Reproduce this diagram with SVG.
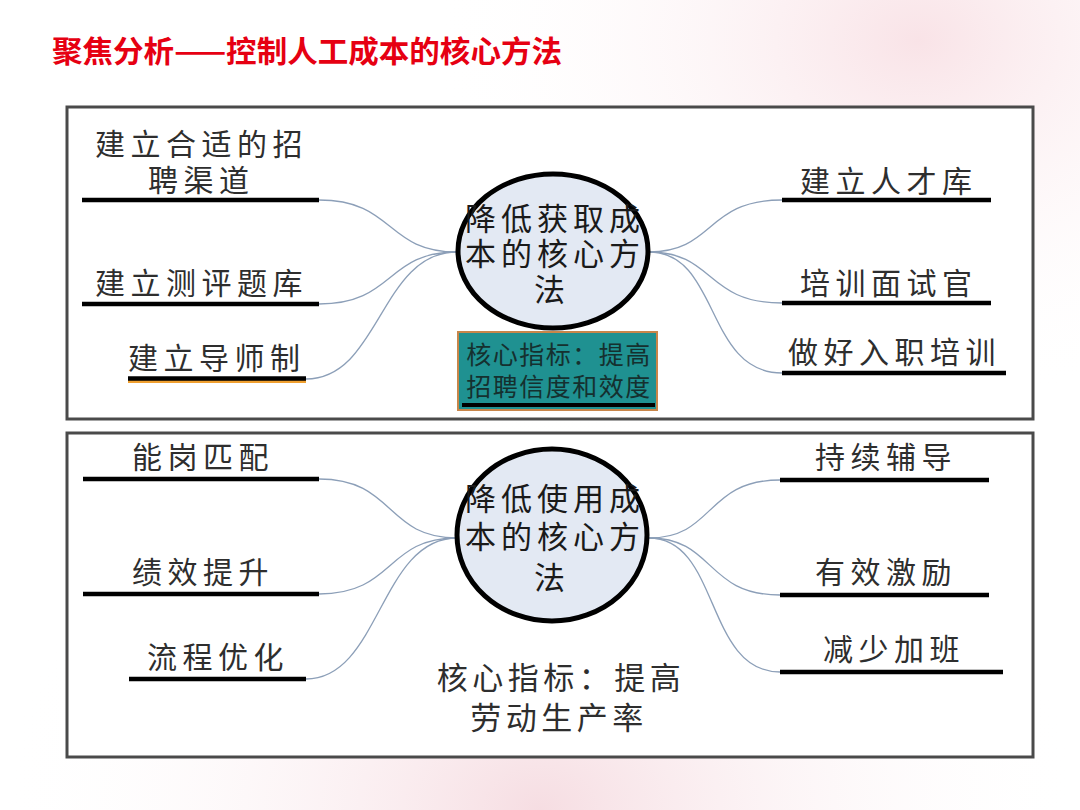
<svg xmlns="http://www.w3.org/2000/svg" width="1080" height="810" viewBox="0 0 1080 810">
<defs>
<radialGradient id="bg1" cx="0.85" cy="0.05" r="0.45">
<stop offset="0" stop-color="#f9e3e7"/>
<stop offset="1" stop-color="#ffffff" stop-opacity="0"/>
</radialGradient>
<radialGradient id="bg2" cx="0.5" cy="1" r="0.5">
<stop offset="0" stop-color="#f6dde2"/>
<stop offset="1" stop-color="#ffffff" stop-opacity="0"/>
</radialGradient>
<style>
.panel{fill:#ffffff;stroke:#4a4a4a;stroke-width:3}
.ul{stroke:#000;stroke-width:4.5}
.lbl{font-family:"Noto Sans CJK SC","Noto Sans",sans-serif;font-size:30px;fill:#2e2e2e;letter-spacing:5.5px;dominant-baseline:central}
.hub{fill:#e3e9f3;stroke:#000;stroke-width:5}
.hubt{font-family:"Noto Sans CJK SC","Noto Sans",sans-serif;font-size:31px;fill:#1a1a1a;letter-spacing:5px;text-anchor:middle;dominant-baseline:central}
.kpi{font-family:"Noto Sans CJK SC","Noto Sans",sans-serif;font-size:25px;fill:#15302f;text-anchor:middle;dominant-baseline:central;letter-spacing:1.5px}
.kpi2{font-family:"Noto Sans CJK SC","Noto Sans",sans-serif;font-size:31px;fill:#2e2e2e;text-anchor:middle;dominant-baseline:central;letter-spacing:4.5px}
.con{fill:none;stroke:#8c9fb8;stroke-width:1.3}
</style>
</defs>
<rect width="1080" height="810" fill="#ffffff"/>
<rect width="1080" height="810" fill="url(#bg1)"/>
<rect width="1080" height="810" fill="url(#bg2)"/>
<g id="title">
<text x="52" y="49" textLength="510" lengthAdjust="spacingAndGlyphs" font-family="'Noto Sans CJK SC','Noto Sans',sans-serif" font-size="30" font-weight="bold" fill="#e60012" dominant-baseline="central">聚焦分析——控制人工成本的核心方法</text>
</g>
<g id="panel-top"><rect class="panel" x="67" y="107" width="966" height="312"/></g>
<g id="panel-bottom"><rect class="panel" x="67" y="433" width="966" height="324"/></g>
<g id="connectors">
<path class="con" d="M319,200 C395,200 385,252 457,252"/>
<path class="con" d="M319,304 C395,304 385,252 457,252"/>
<path class="con" d="M306,379 C380,379 380,252 457,252"/>
<path class="con" d="M649,252 C715,252 705,200 782,200"/>
<path class="con" d="M649,252 C715,252 705,303 782,303"/>
<path class="con" d="M649,252 C720,252 705,373 782,373"/>
<path class="con" d="M319,479 C395,479 385,538 457,538"/>
<path class="con" d="M319,594 C395,594 385,538 457,538"/>
<path class="con" d="M306,679 C380,679 380,538 457,538"/>
<path class="con" d="M649,538 C715,538 705,480 780,480"/>
<path class="con" d="M649,538 C715,538 705,595 780,595"/>
<path class="con" d="M649,538 C720,538 705,672 780,672"/>
</g>
<g id="t-l1">
<text class="lbl" x="95" y="142">建立合适的招</text>
<text class="lbl" x="148" y="178">聘渠道</text>
<line class="ul" x1="82" y1="200" x2="319" y2="200"/>
</g>
<g id="t-l2">
<text class="lbl" x="95" y="281">建立测评题库</text>
<line class="ul" x1="82" y1="304" x2="319" y2="304"/>
</g>
<g id="t-l3">
<text class="lbl" x="128" y="356">建立导师制</text>
<line x1="128" y1="381.5" x2="306" y2="381.5" stroke="#f0a030" stroke-width="3"/>
<line class="ul" x1="128" y1="378.5" x2="306" y2="378.5"/>
</g>
<g id="t-hub">
<ellipse class="hub" cx="553" cy="251" rx="95" ry="77"/>
<text class="hubt" x="555" y="216">降低获取成</text>
<text class="hubt" x="555" y="251">本的核心方</text>
<text class="hubt" x="552" y="287">法</text>
</g>
<g id="t-kpi">
<rect x="458" y="332" width="199" height="78" fill="#1f9191" stroke="#c8864a" stroke-width="2"/>
<line x1="462" y1="405" x2="655" y2="405" stroke="#000" stroke-width="4"/>
<text class="kpi" x="559" y="353">核心指标：提高</text>
<text class="kpi" x="559" y="385">招聘信度和效度</text>
</g>
<g id="t-r1">
<text class="lbl" x="800" y="179">建立人才库</text>
<line class="ul" x1="782" y1="200" x2="991" y2="200"/>
</g>
<g id="t-r2">
<text class="lbl" x="800" y="281">培训面试官</text>
<line class="ul" x1="782" y1="303" x2="991" y2="303"/>
</g>
<g id="t-r3">
<text class="lbl" x="788" y="350">做好入职培训</text>
<line class="ul" x1="782" y1="373" x2="1006" y2="373"/>
</g>
<g id="b-l1">
<text class="lbl" x="132" y="455">能岗匹配</text>
<line class="ul" x1="83" y1="479" x2="319" y2="479"/>
</g>
<g id="b-l2">
<text class="lbl" x="132" y="570">绩效提升</text>
<line class="ul" x1="83" y1="594" x2="319" y2="594"/>
</g>
<g id="b-l3">
<text class="lbl" x="147" y="655">流程优化</text>
<line class="ul" x1="129" y1="679" x2="306" y2="679"/>
</g>
<g id="b-hub">
<ellipse class="hub" cx="552" cy="535" rx="95" ry="86"/>
<text class="hubt" x="555" y="496">降低使用成</text>
<text class="hubt" x="555" y="534">本的核心方</text>
<text class="hubt" x="552" y="575">法</text>
</g>
<g id="b-kpi">
<text class="kpi2" x="561" y="675">核心指标：提高</text>
<text class="kpi2" x="559" y="715">劳动生产率</text>
</g>
<g id="b-r1">
<text class="lbl" x="815" y="455">持续辅导</text>
<line class="ul" x1="780" y1="480" x2="989" y2="480"/>
</g>
<g id="b-r2">
<text class="lbl" x="815" y="570">有效激励</text>
<line class="ul" x1="780" y1="595" x2="989" y2="595"/>
</g>
<g id="b-r3">
<text class="lbl" x="823" y="647">减少加班</text>
<line class="ul" x1="780" y1="672" x2="1003" y2="672"/>
</g>
</svg>
